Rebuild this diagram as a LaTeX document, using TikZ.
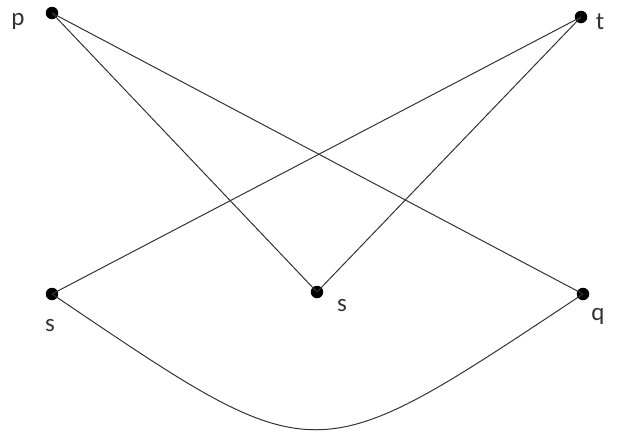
\documentclass[tikz,border=0pt]{standalone}
\usepackage{fontspec}
\setmainfont{Carlito}
\usetikzlibrary{calc}

\tikzset{
  vtx/.style={circle, fill=black, inner sep=0pt, minimum size=12.5pt},
  vlab/.style={font=\fontsize{25}{25}\selectfont, text=black!80, inner sep=0pt},
  edg/.style={draw=black!80, line width=1pt}
}

\begin{document}
\begin{tikzpicture}[x=1pt, y=-1pt]
  \useasboundingbox (0,0) rectangle (619,432);
  %--- vertices ---
  \node[vtx] (p) at (52,13) {};
  \node[vtx] (t) at (581,17) {};
  \node[vtx] (sl) at (52,294) {};
  \node[vtx] (sm) at (317,292) {};
  \node[vtx] (q) at (583,294) {};
  %--- labels ---
  \node[vlab] (lp) at (18,21) {p};
  \node[vlab] (lt) at (600,22) {t};
  \node[vlab] (lsl) at (50,326) {s};
  \node[vlab] (lsm) at (342,306) {s};
  \node[vlab] (lq) at (598,316) {q};
  %--- edges ---
  \draw[edg] (p.center) -- (sm.center);
  \draw[edg] (p.center) -- (q.center);
  \draw[edg] (sl.center) -- (t.center);
  \draw[edg] (t.center) -- (sm.center);
  % lower curve
  \draw[edg] (sl.center) .. controls (320,475) and (310,475) .. (q.center);
\end{tikzpicture}
\end{document}
